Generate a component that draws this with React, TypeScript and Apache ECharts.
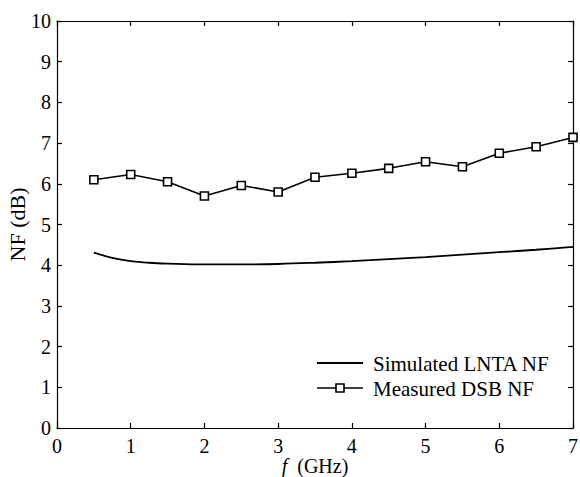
import React, { useEffect, useRef } from "react";
import * as echarts from "echarts";

const simF = [0.5, 0.75, 1, 1.25, 1.5, 2, 2.5, 3, 3.5, 4, 4.5, 5, 5.5, 6, 6.5, 7];
const simNF = [4.31, 4.18, 4.1, 4.06, 4.04, 4.02, 4.02, 4.03, 4.06, 4.1, 4.15, 4.2, 4.26, 4.32, 4.38, 4.45];

const measF = [0.5, 1, 1.5, 2, 2.5, 3, 3.5, 4, 4.5, 5, 5.5, 6, 6.5, 7];
const measNF = [6.1, 6.23, 6.05, 5.7, 5.96, 5.8, 6.16, 6.26, 6.38, 6.54, 6.42, 6.75, 6.91, 7.14];

const seriesNames = ["Simulated LNTA NF", "Measured DSB NF"];

const FONT = "Liberation Serif";

export default function App() {
  const ref = useRef<HTMLDivElement>(null);
  useEffect(() => {
    if (!ref.current) return;
    const chart = echarts.init(ref.current, null, { renderer: "svg" });
    const axisCommon = {
      type: "value" as const,
      axisLine: { show: true, onZero: false, lineStyle: { color: "#000", width: 1.2 } },
      axisTick: { show: true, inside: true, length: 5, lineStyle: { color: "#000", width: 1.2 } },
      splitLine: { show: false },
      axisLabel: { color: "#000", fontFamily: FONT, fontSize: 20, margin: 8 },
    };
    chart.setOption({
      animation: false,
      backgroundColor: "#fff",
      grid: { left: 57, right: 7, top: 21, bottom: 49, containLabel: false, outerBoundsMode: "none" },
      xAxis: [
        {
          ...axisCommon,
          min: 0,
          max: 7,
          interval: 1,
          name: "{i|f}\u00a0 (GHz)",
          nameLocation: "middle",
          nameGap: 28,
          nameMoveOverlap: false,
          nameTextStyle: {
            color: "#000",
            fontFamily: FONT,
            fontSize: 20,
            lineHeight: 20,
            rich: { i: { fontStyle: "italic", fontFamily: FONT, fontSize: 20, lineHeight: 20, color: "#000" } },
          },
        },
        {
          ...axisCommon,
          position: "top",
          min: 0,
          max: 7,
          interval: 1,
          axisLabel: { show: false },
        },
      ],
      yAxis: [
        {
          ...axisCommon,
          min: 0,
          max: 10,
          interval: 1,
          name: "NF (dB)",
          nameLocation: "middle",
          nameGap: 29,
          nameRotate: 90,
          nameMoveOverlap: false,
          nameTextStyle: { color: "#000", fontFamily: FONT, fontSize: 22 },
          axisLabel: { ...axisCommon.axisLabel, margin: 6 },
        },
        {
          ...axisCommon,
          position: "right",
          min: 0,
          max: 10,
          interval: 1,
          axisLabel: { show: false },
        },
      ],
      series: [
        {
          name: seriesNames[0],
          type: "line",
          smooth: 0.4,
          showSymbol: false,
          symbol: "none",
          lineStyle: { color: "#000", width: 1.8 },
          data: simF.map((f, i) => [f, simNF[i]]),
        },
        {
          name: seriesNames[1],
          type: "line",
          symbol: "rect",
          symbolSize: 8,
          itemStyle: { color: "#fff", borderColor: "#000", borderWidth: 1.6 },
          lineStyle: { color: "#000", width: 1.6 },
          data: measF.map((f, i) => [f, measNF[i]]),
          z: 3,
        },
      ],
      graphic: [
        { type: "line", shape: { x1: 317, y1: 363, x2: 363, y2: 363 }, style: { stroke: "#000", lineWidth: 1.8 } },
        {
          type: "text",
          x: 373,
          y: 364,
          style: { text: seriesNames[0], fill: "#000", fontFamily: FONT, fontSize: 21, verticalAlign: "middle" },
        },
        { type: "line", shape: { x1: 317, y1: 388, x2: 363, y2: 388 }, style: { stroke: "#000", lineWidth: 1.6 } },
        {
          type: "rect",
          shape: { x: 336, y: 384, width: 8, height: 8 },
          style: { fill: "#fff", stroke: "#000", lineWidth: 1.6 },
          z: 101,
        },
        {
          type: "text",
          x: 373,
          y: 389,
          style: { text: seriesNames[1], fill: "#000", fontFamily: FONT, fontSize: 21, verticalAlign: "middle" },
        },
      ],
    });
    return () => chart.dispose();
  }, []);
  return <div ref={ref} style={{ width: 580, height: 477, position: "absolute", left: 0, top: 0 }} />;
}
